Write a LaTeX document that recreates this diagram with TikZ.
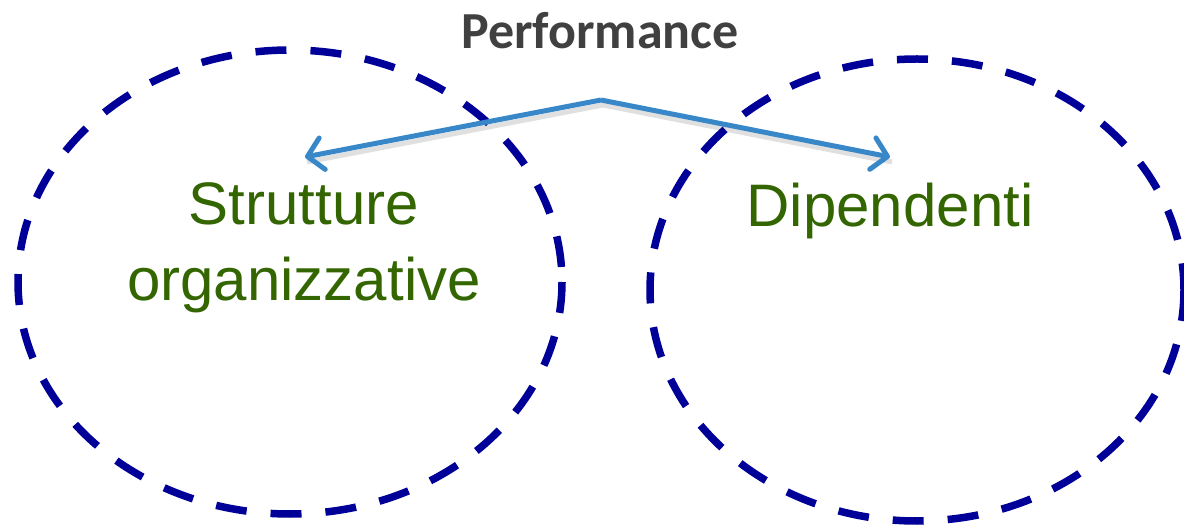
\documentclass[tikz,border=0pt]{standalone}
\usepackage{fontspec}
\setmainfont{Liberation Sans}
\newfontfamily\carlito{Carlito}
\usetikzlibrary{arrows.meta}
\definecolor{navy}{RGB}{0,0,153}
\definecolor{arrowblue}{RGB}{56,135,200}
\definecolor{textgreen}{RGB}{51,102,0}
\definecolor{titlegray}{RGB}{64,64,64}
\tikzset{
  dashring/.style={draw=navy, line width=7.5pt, dash pattern=on 31pt off 24pt},
  label/.style={text=textgreen, font=\fontsize{60}{76}\selectfont, align=center, inner sep=0pt},
  link/.style={draw=arrowblue, line width=5pt, -{Straight Barb[length=15pt,width=32pt,line width=5pt,round]}, line join=round},
  shadowlink/.style={draw=black, line width=5pt, opacity=0.12}
}
\begin{document}
\begin{tikzpicture}[x=1pt,y=-1pt]
\useasboundingbox (0,0) rectangle (1184,529);
\draw[dashring] (290,282) ellipse [x radius=272, y radius=232];
\draw[dashring] (917,290) ellipse [x radius=267, y radius=231];
\node[font=\carlito\bfseries\fontsize{52}{62}\selectfont, text=titlegray, inner sep=0pt] (perf) at (600,31) {Performance};
\node[label, anchor=base] (strut) at (304,301) {Strutture\\organizzative};
\node[label, anchor=base] (dip) at (890,227) {Dipendenti};
\coordinate (apex) at (601,100);
\coordinate (ltip) at (305,157);
\coordinate (rtip) at (890,157);
\draw[shadowlink] ([shift={(2pt,-5pt)}]ltip) -- ([shift={(2pt,-5pt)}]apex) -- ([shift={(2pt,-5pt)}]rtip);
\draw[link] (apex) -- (ltip);
\draw[link] (apex) -- (rtip);
\end{tikzpicture}
\end{document}
